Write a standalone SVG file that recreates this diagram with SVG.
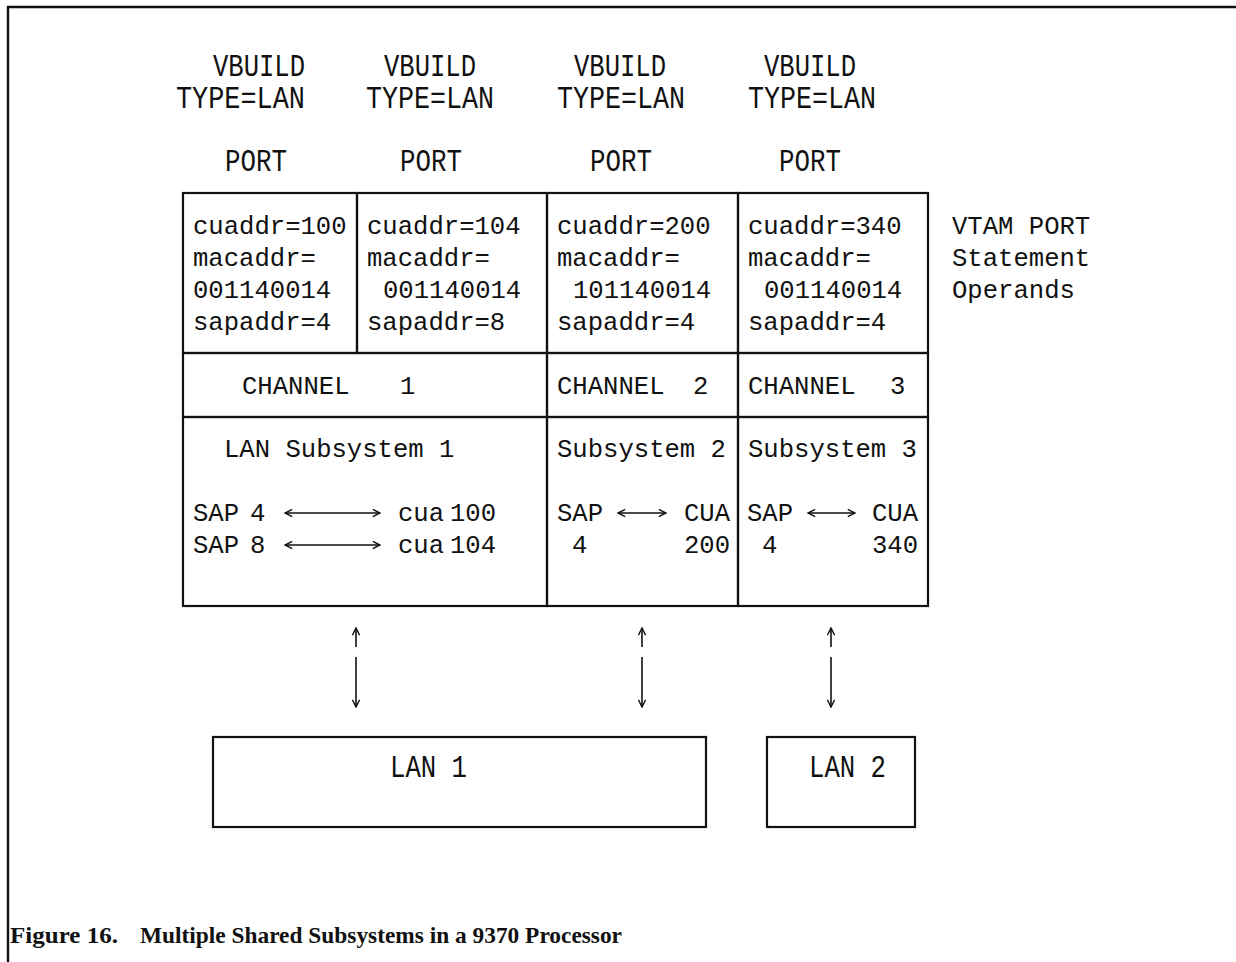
<svg xmlns="http://www.w3.org/2000/svg" width="1236" height="962" viewBox="0 0 1236 962">
  <style>
    .box { fill: none; stroke: #111; stroke-width: 2.2; }
    .frame { fill: none; stroke: #111; stroke-width: 2.4; }
    .t { font-family: "Liberation Mono", "DejaVu Sans Mono", monospace; font-size: 25.6px; fill: #111; }
    .h { font-family: "Liberation Mono", "DejaVu Sans Mono", monospace; font-size: 31px; fill: #111; }
    .cap { font-family: "Liberation Serif", "Times New Roman", serif; font-size: 23px; font-weight: bold; fill: #111; }
    .arr { fill: none; stroke: #111; stroke-width: 1.6; }
  </style>
  <defs>
    <marker id="head" viewBox="0 0 10 10" refX="9" refY="5" markerWidth="9" markerHeight="9" markerUnits="userSpaceOnUse" orient="auto-start-reverse">
      <path d="M1,1 L9,5 L1,9" fill="none" stroke="#111" stroke-width="1.6"/>
    </marker>
  </defs>

  <rect width="1236" height="962" fill="#fff"/>

  <!-- page frame: left and top rules -->
  <path class="frame" d="M8,962 V7 H1236"/>

  <!-- VBUILD / PORT statement headings -->
  <g id="headings">
    <text class="h" x="213" y="76" textLength="92" lengthAdjust="spacingAndGlyphs">VBUILD</text>
    <text class="h" x="176" y="108" textLength="129" lengthAdjust="spacingAndGlyphs">TYPE=LAN</text>
    <text class="h" x="225" y="171" textLength="62" lengthAdjust="spacingAndGlyphs">PORT</text>

    <text class="h" x="384" y="76" textLength="92" lengthAdjust="spacingAndGlyphs">VBUILD</text>
    <text class="h" x="366" y="108" textLength="128" lengthAdjust="spacingAndGlyphs">TYPE=LAN</text>
    <text class="h" x="400" y="171" textLength="62" lengthAdjust="spacingAndGlyphs">PORT</text>

    <text class="h" x="574" y="76" textLength="92" lengthAdjust="spacingAndGlyphs">VBUILD</text>
    <text class="h" x="557" y="108" textLength="128" lengthAdjust="spacingAndGlyphs">TYPE=LAN</text>
    <text class="h" x="590" y="171" textLength="62" lengthAdjust="spacingAndGlyphs">PORT</text>

    <text class="h" x="764" y="76" textLength="92" lengthAdjust="spacingAndGlyphs">VBUILD</text>
    <text class="h" x="748" y="108" textLength="128" lengthAdjust="spacingAndGlyphs">TYPE=LAN</text>
    <text class="h" x="779" y="171" textLength="62" lengthAdjust="spacingAndGlyphs">PORT</text>
  </g>

  <!-- PORT operand cells -->
  <g id="port1">
    <rect class="box" x="183" y="193" width="174" height="160"/>
    <text class="t" x="193" y="234">cuaddr=100</text>
    <text class="t" x="193" y="266">macaddr=</text>
    <text class="t" x="193" y="298">001140014</text>
    <text class="t" x="193" y="330">sapaddr=4</text>
  </g>
  <g id="port2">
    <rect class="box" x="357" y="193" width="190" height="160"/>
    <text class="t" x="367" y="234">cuaddr=104</text>
    <text class="t" x="367" y="266">macaddr=</text>
    <text class="t" x="383" y="298">001140014</text>
    <text class="t" x="367" y="330">sapaddr=8</text>
  </g>
  <g id="port3">
    <rect class="box" x="547" y="193" width="191" height="160"/>
    <text class="t" x="557" y="234">cuaddr=200</text>
    <text class="t" x="557" y="266">macaddr=</text>
    <text class="t" x="573" y="298">101140014</text>
    <text class="t" x="557" y="330">sapaddr=4</text>
  </g>
  <g id="port4">
    <rect class="box" x="738" y="193" width="190" height="160"/>
    <text class="t" x="748" y="234">cuaddr=340</text>
    <text class="t" x="748" y="266">macaddr=</text>
    <text class="t" x="764" y="298">001140014</text>
    <text class="t" x="748" y="330">sapaddr=4</text>
  </g>

  <g id="vtam-note">
    <text class="t" x="952" y="234">VTAM PORT</text>
    <text class="t" x="952" y="266">Statement</text>
    <text class="t" x="952" y="298">Operands</text>
  </g>

  <!-- channel row -->
  <g id="channel1">
    <rect class="box" x="183" y="353" width="364" height="64"/>
    <text class="t" x="242" y="394">CHANNEL</text>
    <text class="t" x="400" y="394">1</text>
  </g>
  <g id="channel2">
    <rect class="box" x="547" y="353" width="191" height="64"/>
    <text class="t" x="557" y="394">CHANNEL</text>
    <text class="t" x="693" y="394">2</text>
  </g>
  <g id="channel3">
    <rect class="box" x="738" y="353" width="190" height="64"/>
    <text class="t" x="748" y="394">CHANNEL</text>
    <text class="t" x="890" y="394">3</text>
  </g>

  <!-- LAN subsystem row -->
  <g id="subsystem1">
    <rect class="box" x="183" y="417" width="364" height="189"/>
    <text class="t" x="224" y="457">LAN Subsystem 1</text>
    <text class="t" x="193" y="521">SAP</text>
    <text class="t" x="250" y="521">4</text>
    <text class="t" x="398" y="521">cua</text>
    <text class="t" x="450" y="521">100</text>
    <text class="t" x="193" y="553">SAP</text>
    <text class="t" x="250" y="553">8</text>
    <text class="t" x="398" y="553">cua</text>
    <text class="t" x="450" y="553">104</text>
    <line class="arr" x1="285" y1="513" x2="380" y2="513" marker-start="url(#head)" marker-end="url(#head)"/>
    <line class="arr" x1="285" y1="545" x2="380" y2="545" marker-start="url(#head)" marker-end="url(#head)"/>
  </g>
  <g id="subsystem2">
    <rect class="box" x="547" y="417" width="191" height="189"/>
    <text class="t" x="557" y="457">Subsystem 2</text>
    <text class="t" x="557" y="521">SAP</text>
    <text class="t" x="684" y="521">CUA</text>
    <text class="t" x="572" y="553">4</text>
    <text class="t" x="684" y="553">200</text>
    <line class="arr" x1="618" y1="513" x2="666" y2="513" marker-start="url(#head)" marker-end="url(#head)"/>
  </g>
  <g id="subsystem3">
    <rect class="box" x="738" y="417" width="190" height="189"/>
    <text class="t" x="748" y="457">Subsystem 3</text>
    <text class="t" x="747" y="521">SAP</text>
    <text class="t" x="872" y="521">CUA</text>
    <text class="t" x="762" y="553">4</text>
    <text class="t" x="872" y="553">340</text>
    <line class="arr" x1="808" y1="513" x2="855" y2="513" marker-start="url(#head)" marker-end="url(#head)"/>
  </g>

  <!-- LAN segments -->
  <g id="lan1">
    <rect class="box" x="213" y="737" width="493" height="90"/>
    <text class="h" x="390" y="777" textLength="77" lengthAdjust="spacingAndGlyphs">LAN 1</text>
  </g>
  <g id="lan2">
    <rect class="box" x="767" y="737" width="148" height="90"/>
    <text class="h" x="809" y="777" textLength="77" lengthAdjust="spacingAndGlyphs">LAN 2</text>
  </g>

  <!-- subsystem to LAN connectors (broken two-way arrows) -->
  <g id="connectors">
    <line class="arr" x1="356" y1="647" x2="356" y2="628" marker-end="url(#head)"/>
    <line class="arr" x1="356" y1="657" x2="356" y2="707" marker-end="url(#head)"/>
    <line class="arr" x1="642" y1="647" x2="642" y2="628" marker-end="url(#head)"/>
    <line class="arr" x1="642" y1="657" x2="642" y2="707" marker-end="url(#head)"/>
    <line class="arr" x1="831" y1="647" x2="831" y2="628" marker-end="url(#head)"/>
    <line class="arr" x1="831" y1="657" x2="831" y2="707" marker-end="url(#head)"/>
  </g>

  <!-- caption -->
  <text class="cap" x="10" y="943" textLength="108" lengthAdjust="spacingAndGlyphs">Figure  16.</text>
  <text class="cap" x="140" y="943" textLength="482" lengthAdjust="spacingAndGlyphs">Multiple Shared Subsystems in a 9370 Processor</text>
</svg>
